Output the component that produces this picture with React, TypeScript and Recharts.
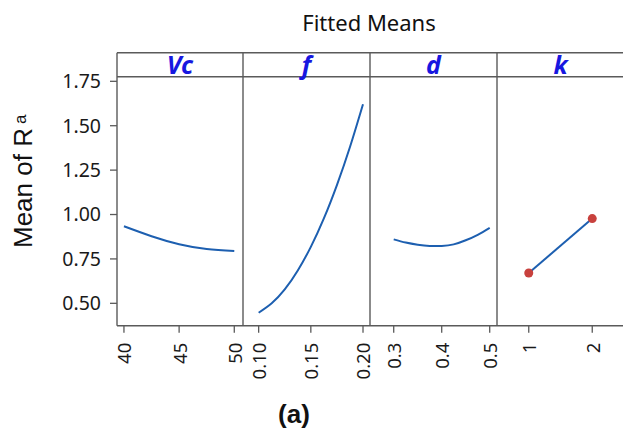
import { LineChart, Line, XAxis, YAxis } from "recharts"

// fitted means
const vcLevels = [40, 42.5, 45, 47.5, 50]
const vcMeans = [0.934, 0.878, 0.833, 0.806, 0.795]
const fLevels = [0.1, 0.1125, 0.125, 0.1375, 0.15, 0.1625, 0.175, 0.1875, 0.2]
const fMeans = [0.447, 0.5, 0.578, 0.685, 0.818, 0.978, 1.166, 1.38, 1.621]
const dLevels = [0.3, 0.325, 0.35, 0.375, 0.4, 0.425, 0.45, 0.475, 0.5]
const dMeans = [0.86, 0.842, 0.83, 0.823, 0.823, 0.832, 0.855, 0.886, 0.925]
const kLevels = [1, 2]
const kMeans = [0.671, 0.977]

const vcTicks = [40, 45, 50]
const fTicks = [0.1, 0.15, 0.2]
const dTicks = [0.3, 0.4, 0.5]
const kTicks = [1, 2]
const yTicks = [0.5, 0.75, 1.0, 1.25, 1.5, 1.75]

const factors = ["Vc", "f", "d", "k"]

const W = 623
const H = 429
const PLOT_TOP = 76.7
const PLOT_BOTTOM = 325.7
const FRAME_TOP = 52.7
const SPILL = 20 // extra room so tick labels near a panel edge aren't clipped
const Y_DOMAIN: [number, number] = [0.374, 1.776]
const LINE = "#1d5fb0"
const DOT = "#c8413d"
const AXIS = "#5a5a5a"
const FONT = "'Noto Sans', 'Open Sans', sans-serif"
const ARIAL = "'Liberation Sans', Arial, sans-serif"

const zip = (xs: number[], ys: number[]) => xs.map((x, i) => ({ x, y: ys[i] }))

function RotTick(props: any) {
  const { x, y, payload, fmt } = props
  return (
    <text
      x={x}
      y={y}
      transform={`rotate(-90 ${x} ${y})`}
      textAnchor="end"
      dominantBaseline="central"
      fontSize={18.5}
      fontFamily={FONT}
      fill="#1a1a1a"
    >
      {fmt(payload.value)}
    </text>
  )
}

interface PanelProps {
  left: number
  width: number
  data: Array<{ x: number; y: number }>
  domain: [number, number]
  ticks: number[]
  fmt: (v: number) => string
  showY?: boolean
  dots?: boolean
}

function Panel({ left, width, data, domain, ticks, fmt, showY, dots }: PanelProps) {
  return (
    <div style={{ position: "absolute", left, top: 0 }}>
      <LineChart
        width={width + SPILL}
        height={H}
        data={data}
        margin={{ top: PLOT_TOP, right: SPILL, bottom: 0, left: 0 }}
      >
        <XAxis
          dataKey="x"
          type="number"
          domain={domain}
          allowDataOverflow
          ticks={ticks}
          interval={0}
          axisLine={false}
          tickSize={7}
          tickMargin={10}
          tickLine={{ stroke: AXIS, strokeWidth: 1.3 }}
          height={H - PLOT_BOTTOM}
          tick={<RotTick fmt={fmt} />}
        />
        <YAxis
          type="number"
          domain={Y_DOMAIN}
          allowDataOverflow
          ticks={yTicks}
          interval={0}
          hide={!showY}
          width={117}
          axisLine={false}
          tickSize={7}
          tickMargin={9}
          tickLine={{ stroke: AXIS, strokeWidth: 1.3 }}
          tickFormatter={(v: number) => v.toFixed(2)}
          tick={{ fontSize: 19.5, fontFamily: FONT, fill: "#1a1a1a" }}
        />
        <Line
          dataKey="y"
          type={dots ? "linear" : "natural"}
          stroke={LINE}
          strokeWidth={2}
          dot={dots ? { r: 4.5, fill: DOT, stroke: DOT, strokeWidth: 0 } : false}
          activeDot={false}
          isAnimationActive={false}
        />
      </LineChart>
    </div>
  )
}

export default function App() {
  const edges = [117, 243, 370, 497, 624]
  return (
    <div
      style={{
        position: "absolute",
        left: 0,
        top: 0,
        width: W,
        height: H,
        overflow: "hidden",
        background: "#fff",
      }}
    >
      <Panel left={0} width={243} data={zip(vcLevels, vcMeans)} domain={[39.37, 50.79]} ticks={vcTicks} fmt={(v) => String(v)} showY />
      <Panel left={243} width={127} data={zip(fLevels, fMeans)} domain={[0.085, 0.2067]} ticks={fTicks} fmt={(v) => v.toFixed(2)} />
      <Panel left={370} width={127} data={zip(dLevels, dMeans)} domain={[0.2506, 0.5152]} ticks={dTicks} fmt={(v) => v.toFixed(1)} />
      <Panel left={497} width={127} data={zip(kLevels, kMeans)} domain={[0.5, 2.5]} ticks={kTicks} fmt={(v) => String(v)} dots />

      <svg
        width={W}
        height={H}
        style={{ position: "absolute", left: 0, top: 0, pointerEvents: "none" }}
      >
        <text x={369} y={31} textAnchor="middle" fontSize={22} fontFamily={FONT} fill="#111">
          Fitted Means
        </text>

        {/* frame + strips */}
        <g stroke={AXIS} strokeWidth={1.4} fill="none">
          <line x1={117} y1={FRAME_TOP} x2={W} y2={FRAME_TOP} />
          <line x1={117} y1={PLOT_TOP} x2={W} y2={PLOT_TOP} />
          <line x1={117} y1={PLOT_BOTTOM} x2={W} y2={PLOT_BOTTOM} />
          {edges.slice(0, 4).map((x) => (
            <line key={x} x1={x} y1={FRAME_TOP} x2={x} y2={PLOT_BOTTOM} />
          ))}
        </g>
        {factors.map((name, i) => (
          <text
            key={name}
            x={(edges[i] + edges[i + 1]) / 2}
            y={74}
            textAnchor="middle"
            fontSize={25}
            fontWeight="bold"
            fontStyle="italic"
            fontFamily={FONT}
            fill="#1717e0"
          >
            {name}
          </text>
        ))}

        <text
          x={32}
          y={248}
          transform="rotate(-90 32 248)"
          fontSize={26}
          fontFamily={ARIAL}
          fill="#111"
        >
          Mean of R
          <tspan dx={4} dy={-6} fontSize={17}>a</tspan>
        </text>

        <text
          x={294}
          y={423}
          textAnchor="middle"
          fontSize={26}
          fontWeight="bold"
          fontFamily={ARIAL}
          fill="#111"
        >
          (a)
        </text>
      </svg>
    </div>
  )
}
